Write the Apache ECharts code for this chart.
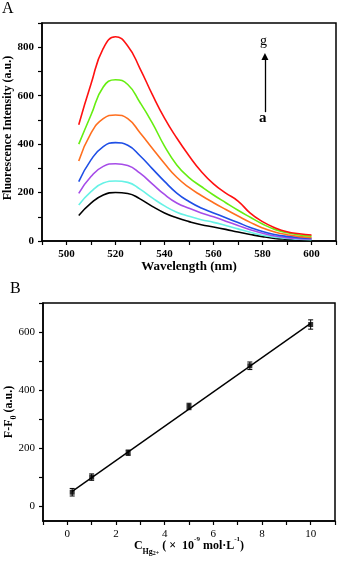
<!DOCTYPE html>
<html lang="en">
<head>
<meta charset="UTF-8">
<meta name="viewport" content="width=device-width, initial-scale=1.0">
<title>Fluorescence spectra and calibration</title>
<style>
    html, body { margin: 0; padding: 0; background: #fff; }
    #echart { width: 338px; height: 563px; }
</style>
</head>
<body>

<div id="echart"></div>

<script src="https://cdn.jsdelivr.net/npm/echarts@6.0.0/dist/echarts.min.js"></script>
<script>
    // panel A: emission spectra, curves a (lowest) .. g (highest)
    const wavelength = [505, 510, 515, 520, 525, 530, 535, 540, 545, 550, 555, 560, 565, 570, 575, 580, 585, 590, 595, 600];
    const curveA = [105, 156, 190, 200, 196, 174, 143, 116, 96, 80, 67, 58, 48, 37, 27, 18, 11, 7, 4, 3];
    const curveB = [149, 204, 239, 248, 242, 214, 178, 145, 119, 102, 88, 77, 64, 50, 36, 24, 16, 10, 7, 5];
    const curveC = [197, 266, 308, 319, 312, 280, 236, 192, 157, 135, 116, 100, 82, 64, 46, 32, 21, 14, 10, 8];
    const curveD = [245, 335, 390, 406, 395, 352, 299, 246, 198, 163, 136, 116, 96, 76, 56, 39, 27, 19, 14, 11];
    const curveE = [330, 445, 505, 520, 505, 447, 383, 320, 263, 221, 188, 158, 130, 103, 77, 54, 37, 26, 18, 14];
    const curveF = [400, 520, 636, 666, 646, 572, 488, 392, 314, 262, 225, 190, 158, 127, 98, 70, 48, 34, 25, 20];
    const curveG = [480, 648, 795, 843, 805, 712, 605, 507, 425, 352, 287, 236, 198, 165, 115, 80, 55, 38, 30, 25];
    const curves = [curveA, curveB, curveC, curveD, curveE, curveF, curveG];
    const curveNames = ["a", "b", "c", "d", "e", "f", "g"];
    const curveColors = ["#000000", "#66f2e6", "#a64ce8", "#1f4fe6", "#ff6f1f", "#66ee11", "#ff1111"];

    // panel B: calibration, F-F0 against Hg2+ concentration
    const concentration = [0.2, 1, 2.5, 5, 7.5, 10];
    const response = [49, 101, 185, 344, 484, 626];
    const responseErr = [13, 11, 9, 11, 13, 16];
    const fitX = [0.2, 10];
    const fitY = [52, 630];

    const serif = "Liberation Serif";

    const myChart = echarts.init(document.getElementById("echart"));

    function axisBase(extra) {
        return Object.assign({
            type: "value",
            axisLine: { show: true, onZero: false, lineStyle: { color: "#000", width: 1.5 } },
            axisTick: { show: true, inside: false, length: 4, lineStyle: { color: "#000", width: 1.2 } },
            splitLine: { show: false },
            nameLocation: "middle",
            nameMoveOverlap: false
        }, extra);
    }

    const option = {
        animation: false,
        textStyle: { fontFamily: serif, color: "#000" },
        title: [
            { text: "A", left: 2, top: 1, padding: 0, textStyle: { fontFamily: serif, fontSize: 16, fontWeight: "normal", color: "#000" } },
            { text: "B", left: 10, top: 281, padding: 0, textStyle: { fontFamily: serif, fontSize: 16, fontWeight: "normal", color: "#000" } }
        ],
        grid: [
            { left: 42, top: 23, width: 294, height: 218, show: true, borderColor: "#000", borderWidth: 1.5, outerBoundsMode: "none" },
            { left: 43, top: 303, width: 292, height: 218, show: true, borderColor: "#000", borderWidth: 1.5, outerBoundsMode: "none" }
        ],
        xAxis: [
            axisBase({
                gridIndex: 0, min: 490, max: 610, interval: 10,
                axisLabel: {
                    margin: 8, fontSize: 11, fontWeight: "bold", color: "#000", fontFamily: serif,
                    formatter: (v) => (v % 20 === 0 ? String(v) : "")
                },
                name: "Wavelength (nm)", nameGap: 19,
                nameTextStyle: { fontSize: 13, fontWeight: "bold", color: "#000", fontFamily: serif }
            }),
            axisBase({
                gridIndex: 1, min: -1, max: 11, interval: 1,
                axisLabel: {
                    margin: 8, fontSize: 11, color: "#000", fontFamily: serif,
                    formatter: (v) => (v >= 0 && v <= 10 && v % 2 === 0 ? String(v) : "")
                },
                name: "C{sub|Hg}{mid|2+} ( ×  10{sup|-9} mol·L{sup|-1})", nameGap: 15,
                nameTextStyle: {
                    fontSize: 12, fontWeight: "bold", color: "#000", fontFamily: serif, lineHeight: 20,
                    rich: {
                        sub: { fontSize: 8, fontWeight: "bold", fontFamily: serif, lineHeight: 10, verticalAlign: "bottom" },
                        mid: { fontSize: 6, fontWeight: "bold", fontFamily: serif, lineHeight: 17, verticalAlign: "bottom" },
                        sup: { fontSize: 7, fontWeight: "bold", fontFamily: serif, lineHeight: 10, verticalAlign: "top" }
                    }
                }
            })
        ],
        yAxis: [
            axisBase({
                gridIndex: 0, min: 0, max: 900, interval: 100,
                axisLabel: {
                    margin: 8, fontSize: 11, fontWeight: "bold", color: "#000", fontFamily: serif,
                    formatter: (v) => (v % 200 === 0 ? String(v) : "")
                },
                name: "Fluorescence Intensity (a.u.)", nameGap: 28,
                nameTextStyle: { fontSize: 12, fontWeight: "bold", color: "#000", fontFamily: serif, padding: [0, 0, 0, 8] }
            }),
            axisBase({
                gridIndex: 1, min: -50, max: 700,
                axisTick: {
                    show: true, inside: false, length: 4, lineStyle: { color: "#000", width: 1.2 },
                    customValues: [0, 100, 200, 300, 400, 500, 600, 700]
                },
                axisLabel: {
                    margin: 8, fontSize: 11, color: "#000", fontFamily: serif,
                    customValues: [0, 200, 400, 600]
                },
                name: "F-F{sub|0} (a.u.)", nameGap: 25,
                nameTextStyle: {
                    fontSize: 12, fontWeight: "bold", color: "#000", fontFamily: serif, lineHeight: 18,
                    rich: {
                        sub: { fontSize: 8, fontWeight: "bold", fontFamily: serif, lineHeight: 10, verticalAlign: "bottom" }
                    }
                }
            })
        ],
        graphic: [
            { type: "text", left: 260, top: 34, style: { text: "g", font: "14px 'Liberation Serif'", fill: "#000" } },
            { type: "text", left: 259, top: 111, style: { text: "a", font: "bold 15px 'Liberation Serif'", fill: "#000" } }
        ],
        series: [
            ...curves.map((values, i) => ({
                name: curveNames[i],
                type: "line",
                xAxisIndex: 0,
                yAxisIndex: 0,
                data: wavelength.map((w, j) => [w, values[j]]),
                smooth: 0.5,
                showSymbol: false,
                lineStyle: { color: curveColors[i], width: 1.6 },
                z: 2 + i,
                markLine: i === 0 ? {
                    silent: true,
                    symbol: ["none", "triangle"],
                    symbolSize: 7,
                    label: { show: false },
                    lineStyle: { color: "#000", width: 1.3, type: "solid" },
                    itemStyle: { color: "#000" },
                    data: [[{ coord: [581, 532] }, { coord: [581, 762] }]]
                } : undefined
            })),
            {
                name: "fit",
                type: "line",
                xAxisIndex: 1,
                yAxisIndex: 1,
                data: fitX.map((x, i) => [x, fitY[i]]),
                showSymbol: false,
                lineStyle: { color: "#000", width: 1.4 },
                z: 2
            },
            {
                name: "error",
                type: "custom",
                xAxisIndex: 1,
                yAxisIndex: 1,
                data: concentration.map((x, i) => [x, response[i] - responseErr[i], response[i] + responseErr[i]]),
                encode: { x: 0, y: [1, 2] },
                renderItem: (params, api) => {
                    const lo = api.coord([api.value(0), api.value(1)]);
                    const hi = api.coord([api.value(0), api.value(2)]);
                    const cap = 2.5;
                    const style = { stroke: "#000", lineWidth: 1 };
                    return {
                        type: "group",
                        children: [
                            { type: "line", shape: { x1: lo[0], y1: lo[1], x2: hi[0], y2: hi[1] }, style },
                            { type: "line", shape: { x1: lo[0] - cap, y1: lo[1], x2: lo[0] + cap, y2: lo[1] }, style },
                            { type: "line", shape: { x1: hi[0] - cap, y1: hi[1], x2: hi[0] + cap, y2: hi[1] }, style }
                        ]
                    };
                },
                z: 3
            },
            {
                name: "measured",
                type: "scatter",
                xAxisIndex: 1,
                yAxisIndex: 1,
                data: concentration.map((x, i) => [x, response[i]]),
                symbol: "rect",
                symbolSize: 5,
                itemStyle: { color: "#000" },
                z: 4
            }
        ]
    };

    myChart.setOption(option);
</script>

</body>
</html>
